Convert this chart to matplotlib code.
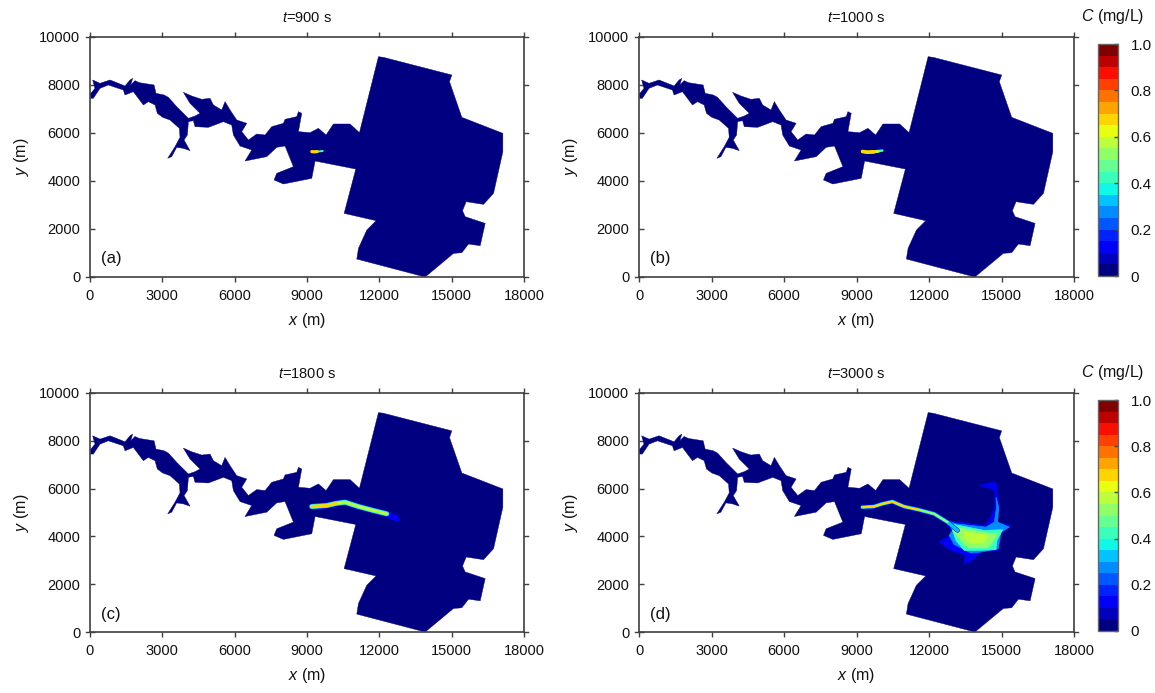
import numpy as np
import matplotlib
matplotlib.use('Agg')
import matplotlib.pyplot as plt
from matplotlib.colors import BoundaryNorm
from matplotlib.cm import ScalarMappable

plt.rcParams['font.family'] = ['Liberation Sans', 'DejaVu Sans']
plt.rcParams['mathtext.fontset'] = 'custom'
plt.rcParams['mathtext.rm'] = 'Liberation Sans'
plt.rcParams['mathtext.it'] = 'Liberation Sans:italic'

# domain outline (m)
outline_x = [0, 207, 110, 415, 830, 1452, 1660, 1770, 1687, 1867, 2047, 2655, 2738, 3070, 3250, 3596, 4080, 4356,
             4564, 4149, 3872, 4218, 4633, 4979, 5117, 5463, 5601, 5809, 6085, 6500, 6293, 6569, 6915, 7261, 7537,
             8021, 8090, 8575, 8644, 8782, 8644, 9128, 9473, 9792, 10096, 10787, 11175,
             11964, 12172, 15007, 14910, 15422, 17123, 17123, 16736, 16321, 15602, 15450, 15560, 16390, 16183,
             15698, 15422, 15076, 13900, 11065, 11135, 11480, 11867, 10540, 11024,
             9335, 9197, 8021, 7634, 7745, 8436, 8090, 7745, 7330, 6431, 6707, 6223, 5947, 5878, 5532, 4910, 4356,
             4287, 4080, 4038, 3900, 4149, 3872, 3596, 3388, 3222, 3527, 3734, 3706, 3319, 3015, 2794, 2697, 2420,
             2213, 1798, 1452, 1383, 760, 415, 138, 28]
outline_y = [7611, 7861, 8209, 8070, 8209, 7959, 8209, 8278, 8000, 8181, 8097, 8000, 7653, 7584, 7486, 7097, 6611, 6708,
             6820, 7236, 7695, 7542, 7403, 7445, 7167, 6958, 7306, 6958, 6542, 6403, 6056, 5708, 5958, 5917, 6264,
             6403, 6570, 6681, 6889, 6820, 6056, 6014, 6195, 5917, 6375, 6375, 6014,
             9180, 9152, 8416, 8138, 6652, 5986, 5222, 3485, 3027, 3138, 2763, 2513, 2235, 1305,
             1374, 1013, 985, 0, 749, 1193, 1957, 2346, 2652, 4499,
             4833, 4111, 3875, 4042, 4319, 4597, 5458, 5403, 5014, 4833, 5292, 5458, 5917, 6333, 6472, 6236, 6264,
             6514, 6472, 5917, 5708, 5264, 5361, 5403, 5014, 4944, 5431, 5820, 6195, 6542, 6653, 6820, 7167, 7306,
             7167, 7722, 7584, 7792, 8000, 7861, 7445, 7445]

# plume ridge lines
ridge_a_x = [9200, 9300, 9420, 9650]
ridge_a_y = [5225, 5215, 5225, 5250]
ridge_b_x = [9250, 9450, 9720, 9900, 10070]
ridge_b_y = [5230, 5200, 5215, 5240, 5270]
ridge_c_x = [9198, 9820, 10200, 10581, 11134, 11756, 12310, 12725]
ridge_c_y = [5250, 5291, 5380, 5430, 5250, 5083, 4944, 4736]
ridge_d_x = [9239, 9723, 10069, 10484, 10968, 11590, 12212, 12766, 13180]
ridge_d_y = [5222, 5250, 5361, 5458, 5250, 5111, 4944, 4597, 4250]

# hook at the tip of the plume in (b)
hook_b_x = [9930, 9960, 10020]
hook_b_y = [5260, 5380, 5260]

# plume patch in (d), concentration value of each contour
patch_levels = [0.12, 0.27, 0.42, 0.5, 0.58]
patch_x = [
    [12696, 14287, 14494, 14729, 14729, 14425, 14079, 14425, 14771, 14840, 14909, 14771, 15393, 15186, 14978, 14840,
     14149, 13872, 13457, 13526, 12904, 12420, 12904, 12904],
    [12766, 13111, 14356, 14702, 14799, 14771, 14882, 14840, 15324, 14978, 14868, 14149, 13734, 13042, 12835, 12973],
    [12904, 14287, 15048, 14812, 14771, 14010, 13457, 13111, 12973],
    [12973, 13872, 14564, 14840, 14633, 14425, 13595, 13250, 13042],
    [13457, 14079, 14494, 14287, 13734, 13457],
]
patch_y = [
    [4667, 4458, 4667, 5222, 5917, 6055, 6125, 6222, 6264, 5778, 5222, 4597, 4458, 4278, 4111, 3417,
     3347, 3069, 2833, 3208, 3417, 3764, 4041, 4319],
    [4667, 4528, 4389, 4597, 5222, 5639, 5222, 4597, 4389, 4180, 3486, 3347, 3305, 3667, 4041, 4250],
    [4528, 4250, 4278, 3833, 3444, 3417, 3417, 3833, 4250],
    [4389, 4250, 4111, 4111, 3764, 3528, 3528, 3903, 4180],
    [4180, 4111, 4041, 3764, 3694, 3972],
]

titles = ['900', '1000', '1800', '3000']
letters = ['(a)', '(b)', '(c)', '(d)']
xticks = [0, 3000, 6000, 9000, 12000, 15000, 18000]
yticks = [0, 2000, 4000, 6000, 8000, 10000]
cbar_ticks = [0, 0.2, 0.4, 0.6, 0.8, 1.0]
cbar_labels = ['0', '0.2', '0.4', '0.6', '0.8', '1.0']

W, H = 1155., 693.
levels = np.linspace(0, 1, 21)
cmap = plt.get_cmap('jet', 20)
norm = BoundaryNorm(levels, 20)
dark = '#404040'
txt = '#111111'


def rect(x0, top, x1, bottom):
    return [x0/W, 1 - bottom/H, (x1 - x0)/W, (bottom - top)/H]


def ridge(ax, xs, ys, c, lw_px, n=None):
    # width given in pixels, figure is at 100 dpi
    ax.plot(xs[:n], ys[:n], color=cmap(norm(c)), lw=lw_px*0.72, solid_capstyle='round', zorder=3)


fig = plt.figure(figsize=(11.55, 6.93), dpi=100)

boxes = [(90, 37, 524, 277), (639, 37, 1074, 277), (90, 393, 524, 632), (639, 393, 1074, 632)]
axs = []
for i, b in enumerate(boxes):
    ax = fig.add_axes(rect(*b))
    axs.append(ax)
    ax.fill(outline_x, outline_y, color=cmap(norm(0.02)), lw=0.3, zorder=2)
    ax.set_xlim(0, 18000)
    ax.set_ylim(0, 10000)
    ax.set_xticks(xticks)
    ax.set_yticks(yticks)
    ax.tick_params(axis='x', direction='out', top=True, length=3.5, width=1, color=dark,
                   labelsize=10.5, labelcolor=txt, pad=5)
    ax.tick_params(axis='y', direction='in', left=True, right=False, length=3.5, width=1, color=dark,
                   labelsize=10.5, labelcolor=txt, pad=7)
    # right side ticks point away from the frame
    for t in yticks:
        ax.plot([1, 1.009], [t/10000, t/10000], transform=ax.transAxes, color=dark, lw=1, clip_on=False, zorder=5)
    ax.plot([-0.009, 0], [0, 0], transform=ax.transAxes, color=dark, lw=1, clip_on=False, zorder=5)
    ax.plot([-0.009, 0], [1, 1], transform=ax.transAxes, color=dark, lw=1, clip_on=False, zorder=5)
    for s in ax.spines.values():
        s.set_color(dark)
        s.set_linewidth(1.2)
    ax.set_xlabel(r'$x$ (m)', fontsize=11.5, color=txt, labelpad=6)
    ax.set_ylabel(r'$y$ (m)', fontsize=11.5, color=txt, labelpad=6)
    ax.set_title(r'$t$=' + titles[i] + ' s', fontsize=10.5, color=txt, pad=11)
    ax.text(0.025, 0.075, letters[i], transform=ax.transAxes, fontsize=12, color=txt, va='center', zorder=6)

ridge(axs[0], ridge_a_x, ridge_a_y, 0.42, 2.0)
ridge(axs[0], ridge_a_x, ridge_a_y, 0.65, 3.2, 3)

ridge(axs[1], hook_b_x, hook_b_y, 0.15, 1.5)
ridge(axs[1], ridge_b_x, ridge_b_y, 0.42, 2.5)
ridge(axs[1], ridge_b_x, ridge_b_y, 0.55, 3.0, 4)
ridge(axs[1], ridge_b_x, ridge_b_y, 0.65, 3.6, 3)

ridge(axs[2], ridge_c_x, ridge_c_y, 0.15, 6.0)
ridge(axs[2], ridge_c_x, ridge_c_y, 0.32, 5.0, 7)
ridge(axs[2], ridge_c_x, ridge_c_y, 0.45, 4.0, 7)
ridge(axs[2], ridge_c_x, ridge_c_y, 0.6, 2.5, 7)
ridge(axs[2], ridge_c_x, ridge_c_y, 0.66, 3.0, 3)

for c, xs, ys in zip(patch_levels, patch_x, patch_y):
    axs[3].fill(xs, ys, color=cmap(norm(c)), lw=0.5, zorder=3)
ridge(axs[3], ridge_d_x, ridge_d_y, 0.15, 4.5)
ridge(axs[3], ridge_d_x, ridge_d_y, 0.35, 3.5)
ridge(axs[3], ridge_d_x, ridge_d_y, 0.5, 2.2, 8)
ridge(axs[3], ridge_d_x, ridge_d_y, 0.65, 2.0, 6)

sm = ScalarMappable(norm=norm, cmap=cmap)
for top, bottom, label_y in [(44, 276, 17), (400, 631, 372)]:
    cax = fig.add_axes(rect(1098, top, 1118, bottom))
    cb = fig.colorbar(sm, cax=cax, ticks=cbar_ticks, spacing='proportional', drawedges=False)
    cb.ax.set_yticklabels(cbar_labels)
    cb.ax.tick_params(direction='in', length=3, width=1, color=dark, labelsize=11, labelcolor=txt, pad=9)
    cb.minorticks_off()
    cb.outline.set_edgecolor('#666666')
    cb.outline.set_linewidth(1)
    fig.text(1113/W, 1 - label_y/H, r'$C$ (mg/L)', fontsize=11.5, color=txt, ha='center', va='center')

fig.savefig('out.png', dpi=100)
